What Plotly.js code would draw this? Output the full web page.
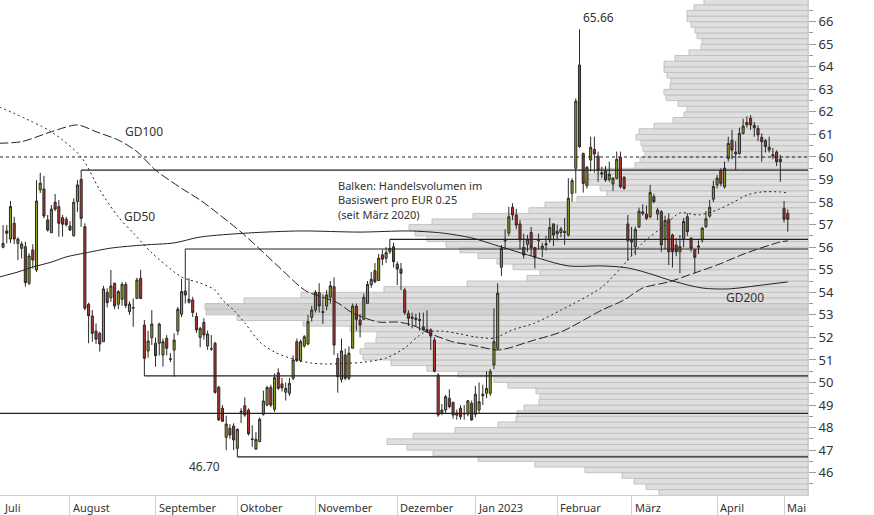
<!DOCTYPE html>
<html><head><meta charset="utf-8">
<script src="https://cdn.plot.ly/plotly-3.0.1.min.js"></script>
<style>html,body{margin:0;padding:0;background:#fff}#chart{width:874px;height:515px}</style>
</head><body><div id="chart"></div>
<script>
// ---- trading-day index of the first candle (0 = 1 July 2022) ----
const firstIndex = 3;
const open = [
56.00,56.72,56.36,57.06,56.17,55.95,56.02,54.40,55.88,54.99,
58.54,58.58,57.21,56.64,57.99,57.80,57.31,57.24,56.94,56.51,
58.02,59.01,56.91,53.47,52.95,52.28,52.18,51.81,54.00,53.76,
54.40,53.47,53.69,54.35,53.14,53.30,53.73,54.62,52.55,51.40,
51.99,51.74,51.74,51.22,51.96,51.05,51.44,52.28,53.03,54.06,
53.56,53.66,52.93,52.00,52.67,51.62,51.50,51.74,49.79,48.86,
47.57,47.97,48.07,47.08,48.68,48.97,48.78,47.50,47.05,47.38,
48.59,49.00,49.78,48.81,50.43,49.94,49.57,49.52,50.19,51.81,
50.97,51.62,51.71,52.89,53.21,53.98,53.10,53.39,53.78,54.25,
51.07,50.14,51.22,50.19,51.52,53.39,52.77,52.80,53.51,54.33,
54.96,54.52,55.66,55.51,55.80,56.02,55.25,55.03,54.10,53.07,
52.90,52.85,52.80,52.47,52.35,52.33,51.88,50.33,48.64,48.78,
49.30,49.12,48.55,48.86,48.60,48.60,49.08,48.59,48.78,49.41,
49.52,49.52,50.78,51.52,55.11,56.28,56.62,57.77,57.43,57.03,
55.99,56.13,56.65,55.98,56.30,55.95,56.10,56.32,57.03,56.60,
56.65,56.70,56.54,58.39,59.50,64.08,60.16,58.73,59.87,60.34,
60.04,59.30,59.39,59.01,58.80,59.06,59.99,59.10,57.03,56.23,
56.02,56.90,57.50,57.47,57.35,58.24,57.47,57.57,56.39,57.24,
56.54,56.10,55.80,56.39,57.35,56.39,55.88,56.00,56.32,56.91,
57.38,58.13,58.76,59.39,58.68,59.93,60.74,60.13,60.16,61.05,
61.42,61.72,61.40,61.27,60.87,60.72,60.31,60.10,60.21,59.90,
57.72,57.50];
const high = [
56.98,56.98,58.05,57.35,56.44,56.25,56.24,55.73,56.13,58.98,
59.30,59.16,57.43,57.87,58.36,58.09,57.43,57.35,57.16,58.17,
58.98,59.42,57.06,53.54,53.21,52.62,52.25,54.29,54.18,54.99,
54.43,54.10,54.45,54.45,53.60,53.73,54.65,55.00,52.77,52.30,
53.21,51.99,52.65,51.95,52.10,51.30,52.18,53.35,54.60,55.92,
54.63,53.80,53.10,52.47,52.85,52.30,52.10,51.80,49.85,49.00,
48.53,48.15,48.19,47.97,48.86,49.34,48.85,48.10,47.80,48.45,
49.64,49.85,49.90,50.40,50.63,50.20,50.00,50.20,51.20,51.95,
51.90,52.10,53.00,53.40,54.10,54.40,53.90,54.10,54.50,54.66,
51.30,51.95,51.50,51.60,53.50,53.50,53.05,53.95,54.50,54.90,
55.30,55.70,55.90,56.00,56.35,56.20,55.36,55.30,54.20,53.20,
53.10,53.05,53.10,53.10,53.20,52.40,52.00,50.41,49.05,49.45,
49.70,49.15,48.80,49.00,49.00,49.22,49.20,49.85,50.00,49.90,
50.50,50.60,53.29,54.40,56.10,56.79,57.80,57.95,57.70,57.20,
56.60,56.55,56.90,56.00,56.60,56.20,56.50,57.30,57.06,57.00,
56.90,57.30,59.06,59.06,62.60,65.66,60.19,59.60,60.90,60.90,
60.24,59.57,59.60,59.80,59.10,60.24,60.24,59.15,57.43,56.90,
56.91,57.75,57.90,57.85,58.76,58.35,57.75,57.65,57.40,57.50,
56.60,56.40,56.54,57.30,57.50,56.45,55.91,56.30,56.90,57.60,
58.10,58.95,59.20,59.50,59.80,60.90,61.20,60.70,61.30,61.70,
61.80,61.86,61.55,61.40,61.05,60.80,60.90,60.40,60.30,60.09,
58.05,57.68];
const low = [
55.95,56.17,56.18,56.14,55.43,55.50,54.25,54.32,55.06,54.90,
58.40,57.28,56.69,56.64,57.60,56.47,56.47,56.91,56.72,56.47,
57.57,56.90,53.20,51.74,51.81,51.71,51.37,51.81,53.33,53.58,
53.25,53.25,53.40,53.30,53.00,52.47,53.70,53.70,50.29,51.10,
51.66,50.70,51.20,50.70,51.20,50.90,50.26,52.10,52.90,53.50,
53.50,52.90,52.20,51.56,51.90,51.45,51.40,49.50,48.30,48.25,
47.00,47.50,47.00,46.70,48.20,48.48,47.65,47.15,47.00,47.35,
48.53,48.95,48.90,48.70,49.67,49.60,49.20,49.40,50.10,50.90,
50.90,51.55,51.65,52.70,53.10,53.10,52.60,53.20,53.50,51.22,
49.55,50.00,50.10,50.10,51.52,52.30,52.00,52.80,53.51,54.20,
54.40,54.50,55.20,55.30,55.70,55.10,54.32,54.10,53.00,52.50,
52.40,52.50,52.30,52.30,52.20,51.44,50.45,48.48,48.55,48.60,
48.85,48.40,48.35,48.35,48.35,48.50,48.30,48.45,48.60,49.00,
49.30,49.40,50.59,51.44,54.72,55.90,56.50,57.20,56.80,55.90,
55.50,55.80,55.60,55.06,55.90,55.55,55.85,56.20,56.05,56.30,
56.45,56.10,56.47,58.02,58.39,60.40,58.42,58.60,59.35,59.30,
58.90,59.06,58.90,58.90,58.50,59.01,58.60,58.55,55.40,55.60,
55.65,56.85,57.40,57.20,57.28,57.95,57.20,55.80,55.90,55.21,
55.10,55.60,54.84,56.00,56.50,55.80,54.84,55.70,56.20,56.85,
57.30,58.00,58.60,58.70,58.60,59.80,59.90,59.42,60.10,61.00,
61.30,61.20,60.90,60.70,59.79,60.20,60.20,59.90,59.60,58.90,
57.09,56.69];
const close = [
56.17,56.62,57.80,56.36,56.36,56.14,54.43,55.61,55.43,58.05,
58.84,57.38,56.76,57.69,57.69,57.06,57.02,57.00,56.76,57.99,
58.76,57.28,53.29,52.96,52.18,51.92,51.71,54.15,53.54,54.28,
53.39,54.03,54.35,53.41,53.48,53.32,54.55,53.73,51.07,51.84,
52.59,51.19,52.59,51.81,51.52,51.03,51.88,53.25,54.03,53.88,
53.69,53.10,52.33,52.40,52.11,52.15,51.49,49.56,48.34,48.28,
48.16,47.67,47.45,47.92,48.72,48.56,47.72,47.48,47.48,48.37,
49.18,49.78,49.00,50.21,49.74,49.76,49.74,49.96,51.00,50.97,
51.81,52.03,52.70,53.21,54.00,53.39,53.14,53.88,54.29,51.66,
50.26,51.40,50.19,51.30,53.39,52.80,52.55,53.78,54.35,54.58,
54.47,55.51,55.47,55.76,55.95,55.36,55.03,54.84,53.10,52.85,
52.85,52.80,52.75,52.33,52.30,52.06,50.50,48.56,48.78,49.37,
48.93,48.56,48.65,48.48,48.62,49.19,48.34,49.48,49.15,49.48,
49.74,50.48,51.81,53.96,55.95,56.35,57.35,57.43,56.98,56.32,
55.65,56.35,55.98,55.55,56.32,56.05,56.15,56.88,56.54,56.70,
56.80,56.65,58.17,58.95,62.48,60.46,58.83,59.54,60.43,60.13,
59.42,59.25,58.98,59.23,59.06,59.90,58.68,58.61,56.29,56.32,
56.79,57.60,57.56,57.28,58.42,58.02,57.65,56.10,57.18,55.80,
55.80,55.80,56.02,57.14,56.69,55.95,55.55,56.05,56.84,57.26,
57.77,58.69,59.06,58.83,59.50,60.60,60.31,60.21,61.05,61.37,
61.53,61.42,61.30,60.98,60.68,60.46,60.43,60.05,59.79,59.79,
57.24,57.24];

// ---- moving averages (trading-day index, value) ----
const gd200Idx = [2,7,11,16,20,25,32,41,49,56,69,83,99,112,121,129,137,144,155,164,171,178,182,191,198,207,214];
const gd200Val = [54.68,54.90,55.12,55.34,55.57,55.74,55.96,56.10,56.19,56.45,56.63,56.72,56.67,56.72,56.63,56.41,56.01,55.66,55.17,55.17,55.08,54.77,54.55,54.19,54.15,54.32,54.46];
const gd100Idx = [2,8,16,23,28,34,39,44,51,56,67,78,83,85,93,97,104,109,113,117,124,129,136,139,145,153,164,170,175,182,189,195,203,212,214];
const gd100Val = [60.61,60.68,61.12,61.42,61.12,60.75,60.24,59.42,58.61,58.09,56.67,54.99,54.23,54.01,53.53,53.08,52.68,52.68,52.55,52.23,51.80,51.66,51.44,51.53,51.84,52.24,53.21,53.66,54.19,54.46,54.86,55.21,55.75,56.23,56.28];
const gd50Idx = [2,16,24,29,34,38,43,51,56,60,62,65,68,72,76,81,86,90,96,99,106,111,116,121,126,130,135,140,146,153,164,171,175,181,185,190,195,199,203,207,212,214];
const gd50Val = [62.22,61.11,60.00,58.54,57.34,56.63,55.75,54.68,54.41,54.10,53.66,53.21,52.64,51.80,51.35,51.04,50.86,50.82,50.86,50.88,51.09,51.53,52.20,52.28,52.15,52.02,51.97,52.33,52.64,53.21,54.23,55.43,56.19,56.98,57.52,57.43,57.65,57.96,58.31,58.45,58.45,58.40];

// ---- volume profile: lower bound of each EUR 0.25 bucket and relative volume ----
const volPrice = [45.00,45.25,45.50,45.75,46.00,46.25,46.50,46.75,47.00,47.25,47.50,47.75,48.00,48.25,48.50,48.75,
49.00,49.25,49.50,49.75,50.00,50.25,50.50,50.75,51.00,51.25,51.50,51.75,52.00,52.25,52.50,52.75,
53.00,53.25,53.50,53.75,54.00,54.25,54.50,54.75,55.00,55.25,55.50,55.75,56.00,56.25,56.50,56.75,
57.00,57.25,57.50,57.75,58.00,58.25,58.50,58.75,59.00,59.25,59.50,59.75,60.00,60.25,60.50,60.75,
61.00,61.25,61.50,61.75,62.00,62.25,62.50,62.75,63.00,63.25,63.50,63.75,64.00,64.25,64.50,64.75,
65.00,65.25,65.50,65.75,66.00,66.25,66.50,66.75];
const volSize = [149,162,174,186,223,273,330,375,401,421,395,353,310,292,291,284,
269,268,272,300,314,350,381,417,445,448,443,432,431,458,505,571,
602,603,564,507,424,341,281,268,295,311,330,348,362,381,393,399,
376,335,279,263,231,201,208,223,220,211,173,168,163,165,167,172,
169,154,135,124,121,130,142,144,138,137,141,144,144,133,119,107,
106,111,113,117,121,121,114,104];

// ---- horizontal price levels ----
const levelPrice = [59.42, 56.35, 55.92, 50.29, 48.63, 46.70];
const levelStart = [24, 107, 52, 41, 0, 66];
const dashedLevel = 60.0;

// ---- axis labels ----
const monthTicks = [21,44,66,87,109,130,152,172,195,213];
const monthLabelPos = [2.4,21,44,66,87,109,130,152,172,195,213];
const monthLabels = ["Juli","August","September","Oktober","November","Dezember","Jan 2023","Februar","März","April","Mai"];
const priceTicks = [46,47,48,49,50,51,52,53,54,55,56,57,58,59,60,61,62,63,64,65,66];
const noteLines = ["Balken: Handelsvolumen im","Basiswert pro EUR 0.25","(seit März 2020)"];

const FONT = "Noto Sans, Open Sans, sans-serif";
const TXT = "#333";
const xRange = [2.18, 219.44];
const yRange = [45.011, 66.962];

const idx = open.map((_, k) => firstIndex + k);
const maxVol = Math.max(...volSize);

const traces = [
  {type:'bar', orientation:'h', x:volSize, y:volPrice, width:0.25, offset:0,
   xaxis:'x', yaxis:'y', hoverinfo:'skip',
   marker:{color: volSize.map(v => v >= maxVol*0.99 ? '#d2d2d2' : '#dfdfdf'),
           line:{color:'#c2c2c2', width:1}}},
  {type:'scatter', mode:'lines', x:gd200Idx, y:gd200Val, xaxis:'x2', yaxis:'y',
   line:{color:'#222', width:1, shape:'spline', smoothing:0.8}, hoverinfo:'skip'},
  {type:'scatter', mode:'lines', x:gd100Idx, y:gd100Val, xaxis:'x2', yaxis:'y',
   line:{color:'#222', width:1, shape:'spline', smoothing:0.8, dash:'9px,3px'}, hoverinfo:'skip'},
  {type:'scatter', mode:'lines', x:gd50Idx, y:gd50Val, xaxis:'x2', yaxis:'y',
   line:{color:'#222', width:1, shape:'spline', smoothing:0.8, dash:'2px,3px'}, hoverinfo:'skip'},
  {type:'candlestick', x:idx, open:open, high:high, low:low, close:close,
   xaxis:'x2', yaxis:'y', hoverinfo:'skip', whiskerwidth:0,
   increasing:{line:{color:'#2a2a2a', width:1}, fillcolor:'#8e9f1a'},
   decreasing:{line:{color:'#2a2a2a', width:1}, fillcolor:'#b3322a'}}
];

const shapes = [
  {type:'line', xref:'paper', yref:'y', x0:0, x1:1, y0:dashedLevel, y1:dashedLevel,
   line:{color:'#222', width:1, dash:'3px,3px'}, layer:'above'}
];
levelPrice.forEach((p, k) => {
  shapes.push({type:'line', xref:'x2', yref:'y', x0:Math.max(levelStart[k], xRange[0]), x1:xRange[1],
    y0:p, y1:p, line:{color:'#222', width:1.2}, layer:'above'});
});

const annotations = [];
monthLabels.forEach((m, k) => {
  annotations.push({xref:'x2', yref:'paper', x:monthLabelPos[k], y:-0.0245, xanchor:'left', yanchor:'middle',
    xshift:1, text:m, showarrow:false, font:{family:FONT, size:11, color:TXT}});
});
annotations.push({xref:'x2', yref:'y', x:158, y:65.66, xanchor:'center', yanchor:'bottom', xshift:19, yshift:1,
  text:'65.66', showarrow:false, font:{family:FONT, size:12, color:TXT}});
annotations.push({xref:'x2', yref:'y', x:66, y:46.70, xanchor:'center', yanchor:'top', xshift:-33, yshift:1,
  text:'46.70', showarrow:false, font:{family:FONT, size:12, color:TXT}});
annotations.push({xref:'x2', yref:'y', x:40.9, y:61.15, text:'GD100', showarrow:false, font:{family:FONT, size:12, color:TXT}});
annotations.push({xref:'x2', yref:'y', x:39.8, y:57.34, text:'GD50', showarrow:false, font:{family:FONT, size:12, color:TXT}});
annotations.push({xref:'x2', yref:'y', x:202.5, y:53.75, text:'GD200', showarrow:false, font:{family:FONT, size:12, color:TXT}});
annotations.push({xref:'x2', yref:'y', x:92.5, y:58.09, xanchor:'left', yanchor:'middle', align:'left',
  text:noteLines.join('<br>'), showarrow:false, font:{family:FONT, size:11, color:TXT}});

const layout = {
  width:874, height:515, margin:{l:0, r:66, t:0, b:20},
  paper_bgcolor:'#fff', plot_bgcolor:'#fff', showlegend:false, boxgap:0.2,
  xaxis:{range:[808,0], visible:false, fixedrange:true},
  xaxis2:{overlaying:'x', anchor:'y', side:'bottom', range:xRange, tickmode:'array', tickvals:monthTicks,
    showticklabels:false, ticks:'outside', ticklen:20, tickcolor:'#cfcfcf', tickwidth:1,
    showline:true, linecolor:'#cfcfcf', showgrid:false, zeroline:false, rangeslider:{visible:false}},
  yaxis:{side:'right', range:yRange, tickmode:'array', tickvals:priceTicks, ticks:'outside', ticklen:7,
    tickcolor:'#9a9a9a', showline:true, linecolor:'#cfcfcf', showgrid:false, zeroline:false,
    tickfont:{family:FONT, size:13, color:TXT},
    minor:{tickmode:'linear', tick0:0.5, dtick:1, ticks:'outside', ticklen:4, tickcolor:'#9a9a9a'}},
  shapes:shapes, annotations:annotations
};

Plotly.newPlot('chart', traces, layout, {staticPlot:true, displayModeBar:false});
</script>
</body></html>
